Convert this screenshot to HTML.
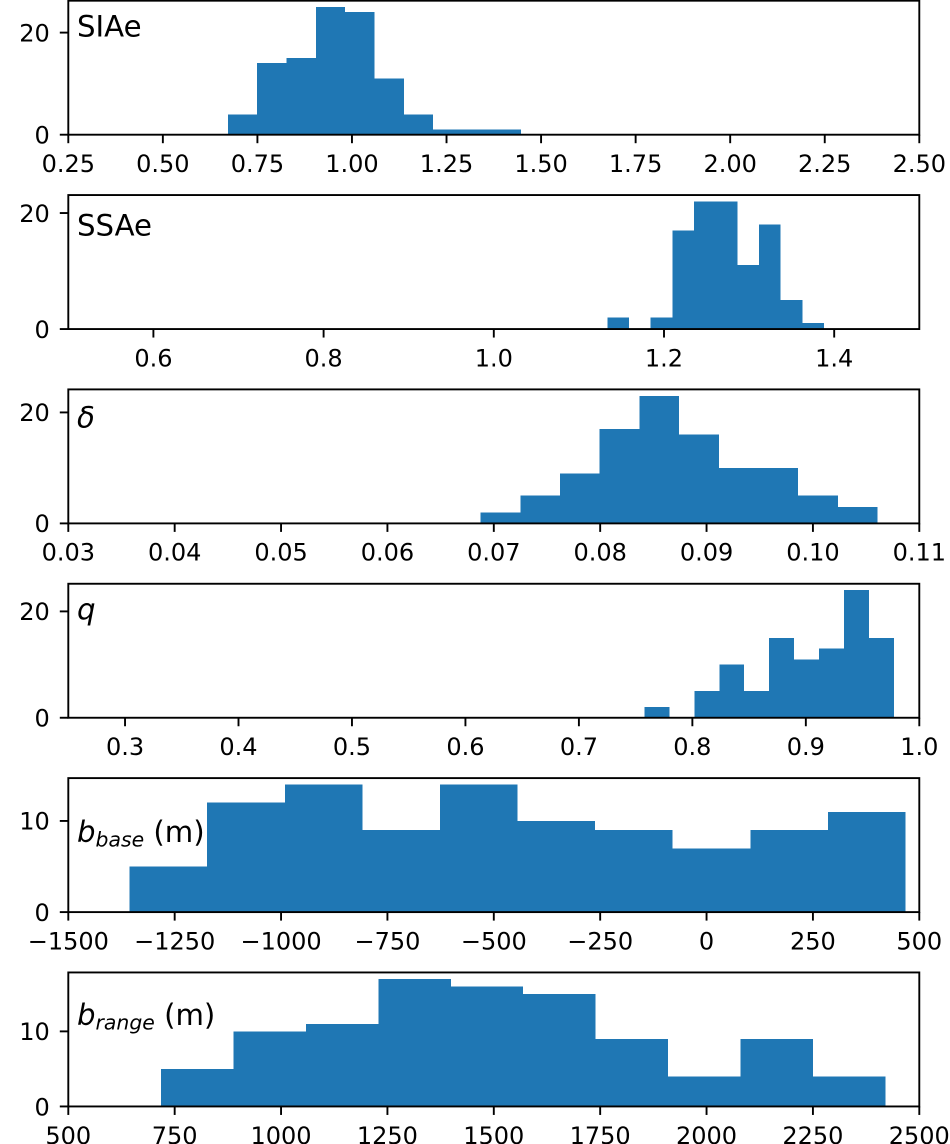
<!DOCTYPE html>
<html>
<head>
<meta charset="utf-8">
<title>Parameter histograms</title>
<style>
html,body{margin:0;padding:0;background:#fff;width:950px;height:1144px;overflow:hidden}
svg{display:block}
text{font-family:"DejaVu Sans","Liberation Sans",sans-serif;fill:#000}
.lab{font-size:29.2px}
.tick{font-size:24px}
.it{font-style:italic}
</style>
</head>
<body>
<svg id="fig" xmlns="http://www.w3.org/2000/svg" width="950" height="1144" viewBox="0 0 950 1144">
<g id="plots"></g>
<g id="labels">
<text class="lab" x="77" y="36.7">SIAe</text>
<text class="lab" x="77" y="235.7">SSAe</text>
<text class="lab it" x="77" y="427.7">δ</text>
<text class="lab it" x="77" y="619.3">q</text>
<text class="lab" x="77" y="842"><tspan class="it">b</tspan><tspan class="it" font-size="20.4" dy="4.5">base</tspan><tspan dy="-4.5"> (m)</tspan></text>
<text class="lab" x="77" y="1025"><tspan class="it">b</tspan><tspan class="it" font-size="20.4" dy="4.5">range</tspan><tspan dy="-4.5"> (m)</tspan></text>
</g>
</svg>
<script>
// Panel 1: SIAe
const siaeCounts = [4, 14, 15, 25, 24, 11, 4, 1, 1, 1];
const siaeBinStart = 0.672;
const siaeBinWidth = 0.0775;
const siaeXLim = [0.25, 2.5];
const siaeXTicks = [0.25, 0.5, 0.75, 1.0, 1.25, 1.5, 1.75, 2.0, 2.25, 2.5];
const siaeXLabels = ["0.25", "0.50", "0.75", "1.00", "1.25", "1.50", "1.75", "2.00", "2.25", "2.50"];
const siaeYTicks = [0, 20];

// Panel 2: SSAe
const ssaeCounts = [2, 0, 2, 17, 22, 22, 11, 18, 5, 1];
const ssaeBinStart = 1.1334;
const ssaeBinWidth = 0.02546;
const ssaeXLim = [0.5, 1.5];
const ssaeXTicks = [0.6, 0.8, 1.0, 1.2, 1.4];
const ssaeXLabels = ["0.6", "0.8", "1.0", "1.2", "1.4"];
const ssaeYTicks = [0, 20];

// Panel 3: delta
const deltaCounts = [2, 5, 9, 17, 23, 16, 10, 10, 5, 3];
const deltaBinStart = 0.06877;
const deltaBinWidth = 0.00373;
const deltaXLim = [0.03, 0.11];
const deltaXTicks = [0.03, 0.04, 0.05, 0.06, 0.07, 0.08, 0.09, 0.10, 0.11];
const deltaXLabels = ["0.03", "0.04", "0.05", "0.06", "0.07", "0.08", "0.09", "0.10", "0.11"];
const deltaYTicks = [0, 20];

// Panel 4: q
const qCounts = [2, 0, 5, 10, 5, 15, 11, 13, 24, 15];
const qBinStart = 0.7577;
const qBinWidth = 0.022;
const qXLim = [0.25, 1.0];
const qXTicks = [0.3, 0.4, 0.5, 0.6, 0.7, 0.8, 0.9, 1.0];
const qXLabels = ["0.3", "0.4", "0.5", "0.6", "0.7", "0.8", "0.9", "1.0"];
const qYTicks = [0, 20];

// Panel 5: b_base
const bBaseCounts = [5, 12, 14, 9, 14, 10, 9, 7, 9, 11];
const bBaseBinStart = -1355.8;
const bBaseBinWidth = 182.33;
const bBaseXLim = [-1500, 500];
const bBaseXTicks = [-1500, -1250, -1000, -750, -500, -250, 0, 250, 500];
const bBaseXLabels = ["\u22121500", "\u22121250", "\u22121000", "\u2212750", "\u2212500", "\u2212250", "0", "250", "500"];
const bBaseYTicks = [0, 10];

// Panel 6: b_range
const bRangeCounts = [5, 10, 11, 17, 16, 15, 9, 4, 9, 4];
const bRangeBinStart = 717.9;
const bRangeBinWidth = 170.26;
const bRangeXLim = [500, 2500];
const bRangeXTicks = [500, 750, 1000, 1250, 1500, 1750, 2000, 2250, 2500];
const bRangeXLabels = ["500", "750", "1000", "1250", "1500", "1750", "2000", "2250", "2500"];
const bRangeYTicks = [0, 10];

const NS = "http://www.w3.org/2000/svg";
const plots = document.getElementById("plots");
const AX_LEFT = 68.3, AX_RIGHT = 919.3, AX_FIRST_TOP = 0.7, AX_STEP = 194.35, AX_H = 134;
const BAR_COLOR = "#1f77b4", SPINE_W = 1.9, TICK_LEN = 8.5;

function make(tag, attrs, parent) {
  const el = document.createElementNS(NS, tag);
  for (const k in attrs) el.setAttribute(k, attrs[k]);
  parent.appendChild(el);
  return el;
}

function drawPanel(index, key, counts, binStart, binWidth, xLim, xTicks, xLabels, yTicks) {
  const top = AX_FIRST_TOP + index * AX_STEP;
  const bottom = top + AX_H;
  const yMax = Math.max.apply(null, counts) * 1.05;
  const xScale = v => AX_LEFT + (v - xLim[0]) / (xLim[1] - xLim[0]) * (AX_RIGHT - AX_LEFT);
  const yScale = v => bottom - v / yMax * AX_H;

  const g = make("g", {}, plots);
  
  
  g.setAttribute('id', 'panel-' + key);

  counts.forEach(function (c, i) {
    if (c <= 0) return;
    const x0 = xScale(binStart + i * binWidth);
    const x1 = xScale(binStart + (i + 1) * binWidth);
    const y = yScale(c);
    const bar = make("rect", { x: x0, y: y, width: x1 - x0, height: bottom - y, fill: BAR_COLOR, "shape-rendering": "crispEdges" }, g);
    
    
  });

  xTicks.forEach(function (t, i) {
    const x = xScale(t);
    const tick = make("line", { x1: x, x2: x, y1: bottom, y2: bottom + TICK_LEN, stroke: "#000", "stroke-width": SPINE_W }, g);
    
    
    const lab = make("text", { class: "tick", x: x, y: bottom + 37.3, "text-anchor": "middle" }, g);
    lab.textContent = xLabels[i];
    
    
  });

  yTicks.forEach(function (t) {
    const y = yScale(t);
    const tick = make("line", { x1: AX_LEFT - TICK_LEN, x2: AX_LEFT, y1: y, y2: y, stroke: "#000", "stroke-width": SPINE_W }, g);
    
    
    const lab = make("text", { class: "tick", x: 49.8, y: y + 8.8, "text-anchor": "end" }, g);
    lab.textContent = String(t);
    
    
  });

  const frame = make("rect", { x: AX_LEFT, y: top, width: AX_RIGHT - AX_LEFT, height: AX_H, fill: "none", stroke: "#000", "stroke-width": SPINE_W }, g);
  
  
}

drawPanel(0, "siae", siaeCounts, siaeBinStart, siaeBinWidth, siaeXLim, siaeXTicks, siaeXLabels, siaeYTicks);
drawPanel(1, "ssae", ssaeCounts, ssaeBinStart, ssaeBinWidth, ssaeXLim, ssaeXTicks, ssaeXLabels, ssaeYTicks);
drawPanel(2, "delta", deltaCounts, deltaBinStart, deltaBinWidth, deltaXLim, deltaXTicks, deltaXLabels, deltaYTicks);
drawPanel(3, "q", qCounts, qBinStart, qBinWidth, qXLim, qXTicks, qXLabels, qYTicks);
drawPanel(4, "b-base", bBaseCounts, bBaseBinStart, bBaseBinWidth, bBaseXLim, bBaseXTicks, bBaseXLabels, bBaseYTicks);
drawPanel(5, "b-range", bRangeCounts, bRangeBinStart, bRangeBinWidth, bRangeXLim, bRangeXTicks, bRangeXLabels, bRangeYTicks);
</script>
</body>
</html>
